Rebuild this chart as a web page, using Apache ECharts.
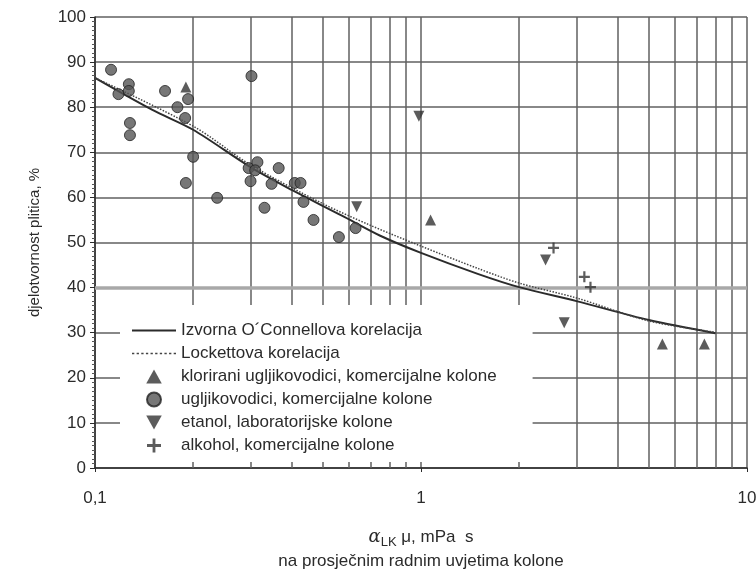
<!DOCTYPE html>
<html>
<head>
<meta charset="utf-8">
<script src="https://cdn.jsdelivr.net/npm/echarts@6/dist/echarts.min.js"></script>
<style>
  html, body { margin: 0; padding: 0; background: #fff; }
  #chart { width: 756px; height: 574px; }
</style>
</head>
<body>
<div id="chart"></div>
<script>
// curves
const oconnell = [
  [0.1, 86.5], [0.15, 79.4], [0.2, 75], [0.3, 66.7], [0.4, 61.7], [0.57, 56],
  [0.75, 51.5], [1, 47.7], [1.5, 43], [2, 40.1], [3, 37], [5, 32.8], [8, 29.9],
];
const lockett = [
  [0.1, 86.5], [0.2, 75.8], [0.3, 67.2], [0.5, 58.6], [0.7, 53.8], [1, 49.2],
  [1.5, 44.2], [2, 41], [3, 37.7], [5, 32.6], [8, 30.1],
];

// measured points
const chlorinated = [[0.19, 84.5], [1.07, 55], [5.5, 27.5], [7.4, 27.5]];
const hydrocarbons = [
  [0.112, 88.3], [0.118, 82.9], [0.127, 85.1], [0.127, 83.6], [0.128, 76.5],
  [0.128, 73.8], [0.164, 83.6], [0.179, 80], [0.189, 77.6], [0.193, 81.8],
  [0.2, 69], [0.19, 63.2], [0.237, 59.9], [0.302, 86.9], [0.296, 66.5],
  [0.315, 67.8], [0.31, 66], [0.3, 63.6], [0.348, 63], [0.331, 57.7],
  [0.366, 66.5], [0.41, 63.2], [0.427, 63.2], [0.436, 59], [0.468, 55],
  [0.56, 51.2], [0.63, 53.2],
];
const ethanol = [[0.635, 57.9], [0.985, 78], [2.41, 46.1], [2.75, 32.2]];
const alcohol = [[2.55, 48.8], [3.17, 42.4], [3.31, 40.1]];

// extra vertical grid lines of the log paper
const logGrid = [0.2, 0.3, 0.4, 0.5, 0.6, 0.7, 0.8, 0.9, 2, 3, 4, 5, 6, 7, 8, 9];

const names = [
  "Izvorna O´Connellova korelacija",
  "Lockettova korelacija",
  "klorirani ugljikovodici, komercijalne kolone",
  "ugljikovodici, komercijalne kolone",
  "etanol, laboratorijske kolone",
  "alkohol, komercijalne kolone",
];

const ink = "#2b2b2b";
const gridColor = "#606060";
const font = "Liberation Sans, Arial, sans-serif";

// symbols as paths so they keep their shape in the legend
const triUp = "path://M5,0L10,9H0Z";
const triDown = "path://M0,0L10,0L5,9Z";
const plus = "path://M4,0H6V4H10V6H6V10H4V6H0V4H4Z";
const solidIcon = "path://M0,4H40V6H0Z";
const dottedIcon =
  "path://M0,4.3h2v1.4h-2z M4,4.3h2v1.4h-2z M8,4.3h2v1.4h-2z M12,4.3h2v1.4h-2z" +
  " M16,4.3h2v1.4h-2z M20,4.3h2v1.4h-2z M24,4.3h2v1.4h-2z M28,4.3h2v1.4h-2z" +
  " M32,4.3h2v1.4h-2z M36,4.3h2v1.4h-2z";

const chart = echarts.init(document.getElementById("chart"));

chart.setOption({
  animation: false,
  textStyle: { fontFamily: font, color: ink },
  grid: { left: 95, right: 9, top: 17, bottom: 106, outerBoundsMode: "none" },
  legend: {
    data: [
      { name: names[0], icon: solidIcon },
      { name: names[1], icon: dottedIcon },
      { name: names[2], icon: triUp },
      { name: names[3], icon: "circle" },
      { name: names[4], icon: triDown },
      { name: names[5], icon: plus },
    ],
    orient: "vertical",
    left: 120,
    top: 305,
    z: 10,
    backgroundColor: "#fff",
    padding: [17, 36, 8, 12],
    itemWidth: 44,
    itemHeight: 14,
    itemGap: 6,
    symbolKeepAspect: true,
    textStyle: { fontSize: 17, color: ink, fontFamily: font, lineHeight: 14 },
  },
  xAxis: {
    type: "log",
    min: 0.1,
    max: 10,
    logBase: 10,
    name:
      "{a|α}{sub|LK}{n| μ, mPa  s}\n{n|na prosječnim radnim uvjetima kolone}",
    nameLocation: "middle",
    nameGap: 57,
    nameTextStyle: {
      rich: {
        a: { fontSize: 18, fontStyle: "italic", fontFamily: "DejaVu Serif", color: ink, lineHeight: 24 },
        sub: { fontSize: 13, color: ink, padding: [10, 0, 0, 0], lineHeight: 24 },
        n: { fontSize: 17, color: ink, lineHeight: 24 },
      },
    },
    axisLine: { lineStyle: { color: ink, width: 1.5 } },
    axisTick: { show: true, length: 4, lineStyle: { color: ink } },
    axisLabel: {
      fontSize: 17,
      color: ink,
      margin: 22,
      formatter: (v) => String(v).replace(".", ","),
    },
    splitLine: { show: true, lineStyle: { color: gridColor, width: 1.5 } },
  },
  yAxis: {
    type: "value",
    min: 0,
    max: 100,
    interval: 10,
    name: "djelotvornost plitica, %",
    nameLocation: "middle",
    nameGap: 53,
    nameTextStyle: { fontSize: 15, color: ink },
    axisLine: { show: true, lineStyle: { color: ink, width: 1.5 } },
    axisTick: { show: true, length: 5, lineStyle: { color: ink } },
    minorTick: { show: true, splitNumber: 10, length: 3, lineStyle: { color: "#555" } },
    axisLabel: { fontSize: 17, color: ink, margin: 9 },
    splitLine: { show: true, lineStyle: { color: gridColor, width: 1.5 } },
  },
  series: [
    {
      name: "grid",
      type: "line",
      data: [],
      z: 1,
      markLine: {
        silent: true,
        z: 1,
        symbol: "none",
        label: { show: false },
        lineStyle: { color: gridColor, width: 1.5, type: "solid" },
        data: [
          ...logGrid.map((v) => ({ xAxis: v })),
          { yAxis: 40, lineStyle: { color: "#a8a8a8", width: 3.5 } },
        ],
      },
    },
    {
      name: names[0],
      type: "line",
      data: oconnell,
      smooth: 0.3,
      symbol: "none",
      z: 3,
      lineStyle: { color: ink, width: 2 },
      itemStyle: { color: ink },
    },
    {
      name: names[1],
      type: "line",
      data: lockett,
      smooth: 0.3,
      symbol: "none",
      z: 3,
      lineStyle: { color: "#444", width: 1.5, type: "dotted" },
      itemStyle: { color: "#444" },
    },
    {
      name: names[2],
      type: "scatter",
      data: chlorinated,
      symbol: triUp,
      symbolSize: 11,
      z: 4,
      itemStyle: { color: "#333" },
    },
    {
      name: names[3],
      type: "scatter",
      data: hydrocarbons,
      symbol: "circle",
      symbolSize: 11,
      z: 4,
      itemStyle: { color: "#555", borderColor: "#222", borderWidth: 1 },
    },
    {
      name: names[4],
      type: "scatter",
      data: ethanol,
      symbol: triDown,
      symbolSize: 11,
      z: 4,
      itemStyle: { color: "#333" },
    },
    {
      name: names[5],
      type: "scatter",
      data: alcohol,
      symbol: plus,
      symbolSize: 11,
      z: 4,
      itemStyle: { color: "#333" },
    },
  ],
});
</script>
</body>
</html>
